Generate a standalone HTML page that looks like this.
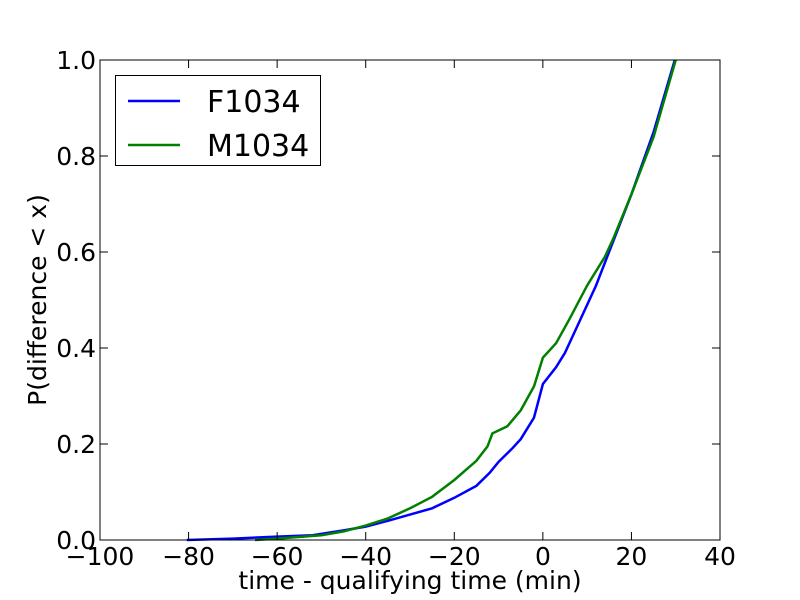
<!DOCTYPE html>
<html><head><meta charset="utf-8"><style>
html,body{margin:0;padding:0;background:#fff;}
svg{display:block;font-family:"DejaVu Sans","Liberation Sans",sans-serif;}
</style></head><body>
<svg id="s" width="800" height="600" xmlns="http://www.w3.org/2000/svg">
<rect width="800" height="600" fill="#fff"/>
<g id="plot"></g>
<rect x="100" y="60" width="620" height="480" fill="none" stroke="#000" stroke-width="1"/>
<g id="ticks" stroke="#000" stroke-width="1"></g>
<g font-size="25" fill="#000" text-anchor="middle">
<text x="100" y="565">−100</text>
<text x="188.6" y="565">−80</text>
<text x="277.1" y="565">−60</text>
<text x="365.7" y="565">−40</text>
<text x="454.3" y="565">−20</text>
<text x="542.9" y="565">0</text>
<text x="631.4" y="565">20</text>
<text x="720" y="565">40</text>
</g>
<g font-size="25" fill="#000" text-anchor="end">
<text x="96" y="549">0.0</text>
<text x="96" y="453">0.2</text>
<text x="96" y="357">0.4</text>
<text x="96" y="261">0.6</text>
<text x="96" y="165">0.8</text>
<text x="96" y="69">1.0</text>
</g>
<text x="410" y="589" font-size="25" text-anchor="middle">time - qualifying time (min)</text>
<text transform="translate(46,300) rotate(-90)" font-size="25" text-anchor="middle">P(difference &lt; x)</text>
<rect x="115.5" y="75.5" width="205" height="90" fill="#fff" stroke="#000" stroke-width="1"/>
<line x1="128" y1="101" x2="180" y2="101" stroke="#0000ff" stroke-width="2.5"/>
<line x1="128" y1="145" x2="180" y2="145" stroke="#008000" stroke-width="2.5"/>
<text x="207" y="112" font-size="30">F1034</text>
<text x="207" y="156" font-size="30">M1034</text>
</svg>
<script>
function px(x){return 100+(x+100)*620/140;}
function py(y){return 540-y*480;}
var F=[[-80.4,0],[-70,0.003],[-60,0.007],[-52,0.01],[-45,0.02],[-40,0.028],[-35,0.04],[-30,0.053],[-25,0.066],[-20,0.088],[-15,0.113],[-12,0.14],[-10,0.163],[-7,0.19],[-5,0.21],[-2,0.255],[0,0.325],[3,0.36],[5,0.39],[8,0.45],[12,0.53],[16,0.625],[20,0.72],[25,0.85],[29.8,1.0]];
var M=[[-65,0],[-60,0.003],[-50,0.01],[-45,0.018],[-40,0.03],[-35,0.045],[-30,0.066],[-25,0.09],[-20,0.125],[-15,0.165],[-12.5,0.195],[-11.4,0.222],[-8,0.237],[-5,0.27],[-2,0.32],[0,0.38],[3,0.41],[6,0.46],[10,0.53],[14,0.59],[16,0.63],[20,0.72],[25,0.84],[30,1.0]];
var NS="http://www.w3.org/2000/svg";
function line(d,c){var p=document.createElementNS(NS,"polyline");p.setAttribute("points",d.map(function(a){return px(a[0]).toFixed(1)+","+py(a[1]).toFixed(1)}).join(" "));p.setAttribute("fill","none");p.setAttribute("stroke",c);p.setAttribute("stroke-width","2.5");document.getElementById("plot").appendChild(p);}
line(F,"#0000ff");line(M,"#008000");
var t=document.getElementById("ticks");
function L(a,b,c,d){var l=document.createElementNS(NS,"line");l.setAttribute("x1",a);l.setAttribute("y1",b);l.setAttribute("x2",c);l.setAttribute("y2",d);t.appendChild(l);}
for(var x=-100;x<=40;x+=20){var X=px(x);L(X,540,X,532);L(X,60,X,68);}
for(var y=0;y<=1.001;y+=0.2){var Y=py(y);L(100,Y,108,Y);L(720,Y,712,Y);}
</script>
</body></html>
